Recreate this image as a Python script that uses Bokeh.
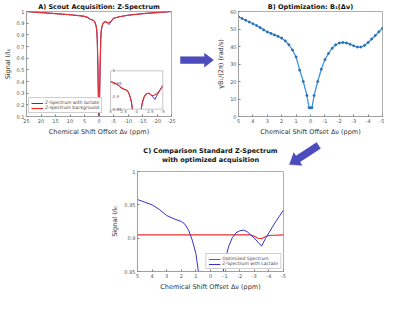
import math
import numpy as np
from bokeh.plotting import figure
from bokeh.models import Range1d, FixedTicker, Spacer, CustomJSTickFormatter
from bokeh.layouts import row, column
from bokeh.core.properties import value
from bokeh.embed import file_html
from bokeh.resources import INLINE

FONT = "DejaVu Sans"
RED = "#ec2f28"
BLUE = "#3434c8"
B1C = "#3f95dc"
ARROW = "#4b4bbd"

# ---------------- data ----------------
zs_offset = [25, 20, 15, 10, 7, 5, 4.5, 4, 3.5, 3, 2.5, 2, 1.75, 1.5, 1.25, 1, 0.8, 0.6, 0.4, 0.2, 0,
             -0.2, -0.4, -0.6, -0.8, -1, -1.25, -1.5, -1.75, -2, -2.25, -2.5, -2.75, -3, -3.25, -3.5,
             -3.75, -4, -4.5, -5, -7, -10, -15, -20, -25]
zs_lactate = [1.0, 0.991, 0.982, 0.972, 0.965, 0.958, 0.954, 0.950, 0.943, 0.934, 0.929, 0.925, 0.921,
              0.912, 0.897, 0.877, 0.845, 0.76, 0.55, 0.28, 0.05,
              0.28, 0.55, 0.76, 0.84, 0.868, 0.888, 0.901, 0.908, 0.911, 0.912, 0.910, 0.905, 0.900,
              0.894, 0.888, 0.899, 0.908, 0.926, 0.942, 0.955, 0.968, 0.981, 0.991, 1.0]
zs_background = [1.0, 0.991, 0.982, 0.972, 0.965, 0.958, 0.954, 0.950, 0.943, 0.934, 0.929, 0.925, 0.921,
                 0.912, 0.897, 0.877, 0.845, 0.76, 0.55, 0.28, 0.05,
                 0.28, 0.55, 0.76, 0.84, 0.868, 0.888, 0.901, 0.908, 0.911, 0.912, 0.910, 0.906, 0.903,
                 0.904, 0.906, 0.909, 0.913, 0.926, 0.942, 0.955, 0.968, 0.981, 0.991, 1.0]

opt_offset = [5, 4, 3, 2, 1, 0, -1, -2, -2.75, -3, -3.25, -3.5, -3.75, -4, -5]
opt_signal = [0.905, 0.905, 0.905, 0.905, 0.905, 0.905, 0.905, 0.905, 0.905, 0.903, 0.900, 0.899,
              0.902, 0.904, 0.905]

b1_offset = [5, 4.75, 4.5, 4.25, 4, 3.75, 3.5, 3.25, 3, 2.75, 2.5, 2.25, 2, 1.75, 1.5, 1.25, 1,
             0.75, 0.5, 0.25, 0.1, 0, -0.1, -0.25, -0.5, -0.75, -1, -1.25, -1.5, -1.75, -2, -2.25,
             -2.5, -2.75, -3, -3.25, -3.5, -3.75, -4, -4.25, -4.5, -4.75, -5]
b1_amp = [57.0, 56.0, 55.0, 54.0, 53.0, 52.0, 50.8, 49.5, 48.3, 47.5, 46.6, 45.8, 44.8, 43.2, 41.0,
          38.0, 34.0, 26.5, 20.0, 12.0, 5.0, 5.0, 5.0, 12.0, 20.0, 27.0, 32.5, 36.0, 39.0, 41.0, 42.0,
          42.3, 42.0, 41.3, 40.4, 39.7, 39.7, 40.6, 42.3, 44.3, 46.3, 48.4, 50.4]

a_xticks = [25, 20, 15, 10, 5, 0, -5, -10, -15, -20, -25]
a_yticks = [0.1, 0.2, 0.3, 0.4, 0.5, 0.6, 0.7, 0.8, 0.9, 1]
b_xticks = [5, 4, 3, 2, 1, 0, -1, -2, -3, -4, -5]
b_yticks = [0, 10, 20, 30, 40, 50, 60]
c_yticks = [0.85, 0.9, 0.95, 1]
inset_xticks = [5, 2.5, 0, -2.5, -5]
inset_xlabels = ["5", "2.5", "0", "-2.5", "-5"]
inset_yticks = [1, 0.95, 0.9, 0.85]
inset_ylabels = ["1", "0.95", "0.9", "0.85"]

TITLE_A = "A) Scout Acquisition: Z-Spectrum"
TITLE_B = "B) Optimization: B₁(Δν)"
TITLE_C = ["C) Comparison Standard Z-Spectrum", "with optimized acquisition"]
XLABEL = "Chemical Shift Offset Δν (ppm)"
FMT = CustomJSTickFormatter(code="return String(tick)")


def style(p, xticks, yticks):
    p.grid.visible = False
    p.outline_line_color = "#b0b0b0"
    p.background_fill_color = "white"
    p.border_fill_color = "white"
    p.xaxis.ticker = FixedTicker(ticks=xticks)
    p.yaxis.ticker = FixedTicker(ticks=yticks)
    for ax in p.axis:
        ax.formatter = FMT
        ax.axis_line_color = "#a0a0a0"
        ax.major_tick_line_color = "#808080"
        ax.major_tick_in = 2
        ax.major_tick_out = 0
        ax.minor_tick_line_color = None
        ax.major_label_text_font = FONT
        ax.major_label_text_font_size = "5px"
        ax.major_label_text_color = "#555555"
        ax.major_label_standoff = 2
        ax.axis_label_text_font = FONT
        ax.axis_label_text_font_size = "6.5px"
        ax.axis_label_text_font_style = "normal"
        ax.axis_label_text_color = "#333333"
        ax.axis_label_standoff = 2


def title_style(t):
    t.text_font = FONT
    t.text_font_size = "6.5px"
    t.text_font_style = "bold"
    t.text_color = "#111111"
    t.align = "center"
    t.standoff = 1
    t.offset = 0


def legend_style(lg):
    lg.label_text_font = FONT
    lg.label_text_font_size = "4.5px"
    lg.label_height = 4
    lg.glyph_height = 4
    lg.glyph_width = 12
    lg.label_standoff = 2
    lg.spacing = 0
    lg.padding = 2
    lg.margin = 0
    lg.border_line_color = "#a0a0a0"
    lg.background_fill_alpha = 1


def blank_fig(w, h):
    f = figure(width=w, height=h, x_range=Range1d(0, w), y_range=Range1d(h, 0),
               output_backend="svg", toolbar_location=None, title=None, min_border=0)
    f.axis.visible = False
    f.grid.visible = False
    f.outline_line_color = None
    return f


def arrow_poly(x0, y0, x1, y1, bw, hw, hl):
    dx, dy = x1 - x0, y1 - y0
    L = math.hypot(dx, dy)
    ux, uy = dx / L, dy / L
    nx, ny = -uy, ux
    bx, by = x1 - ux * hl, y1 - uy * hl
    xs = [x0 + nx * bw / 2, bx + nx * bw / 2, bx + nx * hw / 2, x1, bx - nx * hw / 2,
          bx - nx * bw / 2, x0 - nx * bw / 2]
    ys = [y0 + ny * bw / 2, by + ny * bw / 2, by + ny * hw / 2, y1, by - ny * hw / 2,
          by - ny * bw / 2, y0 - ny * bw / 2]
    return xs, ys


# ---------------- Panel A ----------------
TOP_H = 138
pa = figure(width=178, height=TOP_H, x_range=Range1d(25, -25), y_range=Range1d(0.1, 1.0),
            output_backend="svg", toolbar_location=None, title=TITLE_A,
            min_border_left=23, min_border_right=7, min_border_top=0, min_border_bottom=0)
style(pa, a_xticks, a_yticks)
title_style(pa.title)
pa.xaxis.axis_label = XLABEL
pa.yaxis.axis_label = "Signal I/I₀"

pa.line(zs_offset, zs_lactate, color=BLUE, line_width=1, legend_label="Z-Spectrum with lactate")
pa.line(zs_offset, zs_background, color=RED, line_width=1.2, legend_label="Z-spectrum background")
legend_style(pa.legend[0])
pa.legend.location = (2, 3)

# inset (own ranges mapped onto a sub-region of the frame)
INSET_FX = (0.58, 0.94)
INSET_FY = (0.07, 0.435)
IX = (5, -5)
IY = (0.85, 1.0)
sx = (IX[1] - IX[0]) / (INSET_FX[1] - INSET_FX[0])
sy = (IY[1] - IY[0]) / (INSET_FY[1] - INSET_FY[0])
ix0 = IX[0] - INSET_FX[0] * sx
iy0 = IY[0] - INSET_FY[0] * sy
pa.extra_x_ranges = {"ix": Range1d(ix0, ix0 + sx)}
pa.extra_y_ranges = {"iy": Range1d(iy0, iy0 + sy)}

zo = np.array(zs_offset, dtype=float)
mask = np.abs(zo) <= 5
pa.quad(left=IX[0], right=IX[1], bottom=IY[0], top=IY[1], fill_color="white", line_color=None,
        x_range_name="ix", y_range_name="iy")
pa.line(zo[mask], np.array(zs_lactate)[mask], color=BLUE, line_width=1, x_range_name="ix", y_range_name="iy")
pa.line(zo[mask], np.array(zs_background)[mask], color=RED, line_width=1.1, x_range_name="ix", y_range_name="iy")
pa.quad(left=IX[0] + 0.3, right=IX[1] - 0.3, bottom=iy0, top=IY[0], fill_color="white", line_color=None,
        x_range_name="ix", y_range_name="iy")
pa.quad(left=IX[0], right=IX[1], bottom=IY[0], top=IY[1], fill_color=None, line_color="#b8b8b8",
        line_width=0.8, x_range_name="ix", y_range_name="iy")
pa.text(x=inset_xticks, y=[IY[0]] * len(inset_xticks), text=inset_xlabels, text_font=value(FONT),
        text_font_size="4px", text_color="#666666", text_align="center", text_baseline="top",
        y_offset=1, x_range_name="ix", y_range_name="iy")
pa.text(x=[IX[0]] * len(inset_yticks), y=inset_yticks, text=inset_ylabels, text_font=value(FONT),
        text_font_size="4px", text_color="#666666", text_align="left", text_baseline="middle",
        x_offset=2, x_range_name="ix", y_range_name="iy")

# ---------------- Panel B ----------------
pb = figure(width=170, height=TOP_H, x_range=Range1d(5, -5), y_range=Range1d(0, 60),
            output_backend="svg", toolbar_location=None, title=TITLE_B,
            min_border_left=22, min_border_right=2, min_border_top=0, min_border_bottom=0)
style(pb, b_xticks, b_yticks)
title_style(pb.title)
pb.xaxis.axis_label = XLABEL
pb.yaxis.axis_label = "γB₁/(2π) (rad/s)"
pb.line(b1_offset, b1_amp, color=B1C, line_width=1.3)
pb.scatter(b1_offset, b1_amp, size=2, color="#2d6fb5")

# arrow between A and B (its frame is aligned with the neighbouring frames, ~108 px tall)
arrA = figure(width=36, height=TOP_H, x_range=Range1d(0, 36), y_range=Range1d(108, 0),
              output_backend="svg", toolbar_location=None, title=None, min_border=0)
arrA.axis.visible = False
arrA.grid.visible = False
arrA.outline_line_color = None
xs, ys = arrow_poly(2, 50, 35, 50, 7, 14, 9)
arrA.patch(xs, ys, fill_color=ARROW, line_color=ARROW, line_width=0.5)

# ---------------- band with title C and second arrow ----------------
BAND_H = 31
band = blank_fig(384, BAND_H)
band.text(x=[210, 210], y=[12, 21], text=TITLE_C, text_font=value(FONT), text_font_size="6.5px",
          text_font_style="bold", text_color="#111111", text_align="center", text_baseline="middle")
xs, ys = arrow_poly(318, 7, 289, 26, 7, 15, 10)
band.patch(xs, ys, fill_color=ARROW, line_color=ARROW, line_width=0.5)

# ---------------- Panel C ----------------
C_H = 293 - TOP_H - BAND_H
pc = figure(width=182, height=C_H, x_range=Range1d(5, -5), y_range=Range1d(0.85, 1.0),
            output_backend="svg", toolbar_location=None, title=None,
            min_border_left=28, min_border_right=7, min_border_top=2, min_border_bottom=0)
style(pc, b_xticks, c_yticks)
pc.xaxis.axis_label = XLABEL
pc.yaxis.axis_label = "Signal I/I₀"
pc.line(opt_offset, opt_signal, color=RED, line_width=1.1, legend_label="Optimized Spectrum")
pc.line(zo[mask], np.array(zs_lactate)[mask], color=BLUE, line_width=1, legend_label="Z-Spectrum with Lactate")
legend_style(pc.legend[0])
pc.legend.location = "bottom_right"
pc.legend.margin = 2

top = row(pa, arrA, pb)
bottom = row(Spacer(width=108, height=C_H), pc)
page = column(top, band, bottom)

open("out.html", "w").write(file_html(page, INLINE))
